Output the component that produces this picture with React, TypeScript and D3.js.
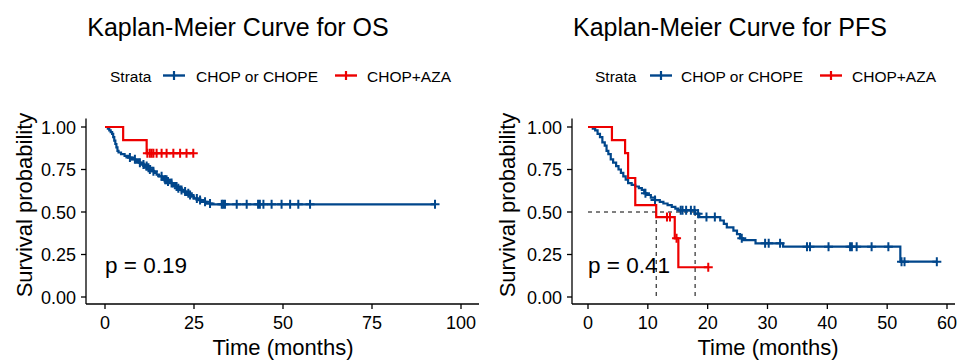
import React from "react";
import * as d3 from "d3";

// ---------- data ----------
const strata = ["CHOP or CHOPE", "CHOP+AZA"];
const strataColors = ["#00468B", "#ED0000"];

// OS — CHOP or CHOPE (step after)
const osBlueTimes = [0, 0.8, 1.2, 1.6, 2.0, 2.3, 2.6, 2.9, 3.2, 3.5, 3.8, 4.5, 5.5, 6.5, 7.5, 8.5, 9.5, 10.3, 11.0, 11.8, 12.5, 13.2, 13.8, 14.5, 15.2, 16.0, 16.8, 17.5, 18.3, 19.0, 19.8, 20.5, 21.2, 22.0, 22.8, 23.5, 24.3, 25.0, 26.0, 27.0, 28.5, 30.0];
const osBlueSurv = [1.0, 0.99, 0.98, 0.97, 0.96, 0.94, 0.92, 0.9, 0.88, 0.86, 0.85, 0.84, 0.83, 0.82, 0.81, 0.8, 0.79, 0.78, 0.77, 0.76, 0.75, 0.74, 0.73, 0.72, 0.71, 0.7, 0.69, 0.68, 0.67, 0.66, 0.65, 0.64, 0.63, 0.62, 0.61, 0.6, 0.59, 0.58, 0.57, 0.56, 0.55, 0.545];
const osBlueCensor = [7.0, 8.4, 9.8, 10.8, 11.7, 12.2, 12.6, 13.6, 15.9, 16.9, 17.3, 17.7, 18.7, 20.1, 20.6, 21.5, 22.5, 23.4, 23.9, 25.8, 26.7, 28.1, 29.5, 32.8, 33.2, 33.7, 37.0, 39.8, 43.0, 43.5, 44.5, 46.8, 49.6, 52.0, 54.3, 57.6, 92.7];

// OS — CHOP+AZA
const osRedTimes = [0, 5.1, 11.7];
const osRedSurv = [1.0, 0.923, 0.846];
const osRedCensor = [11.9, 12.6, 13.1, 13.6, 14.5, 15.9, 17.3, 19.2, 21.1, 22.9, 24.8];

// PFS — CHOP or CHOPE
const pfsBlueTimes = [0, 0.8, 1.2, 1.6, 2.0, 2.4, 2.8, 3.1, 3.4, 3.8, 4.2, 4.7, 5.1, 5.5, 5.9, 6.3, 6.7, 7.3, 7.9, 8.5, 9.0, 9.4, 9.8, 10.5, 11.2, 12.0, 12.6, 13.3, 14.0, 14.6, 15.1, 17.9, 18.6, 22.1, 22.7, 23.2, 24.3, 24.9, 25.4, 25.9, 28.0, 32.6, 52.2];
const pfsBlueSurv = [1.0, 0.99, 0.98, 0.96, 0.94, 0.91, 0.89, 0.86, 0.84, 0.81, 0.79, 0.77, 0.75, 0.73, 0.71, 0.69, 0.67, 0.66, 0.65, 0.64, 0.63, 0.61, 0.6, 0.585, 0.57, 0.56, 0.55, 0.54, 0.53, 0.52, 0.51, 0.49, 0.47, 0.45, 0.43, 0.41, 0.39, 0.37, 0.345, 0.335, 0.316, 0.296, 0.208];
const pfsBlueCensor = [9.6, 11.2, 15.5, 15.8, 16.4, 17.2, 17.8, 18.4, 19.8, 21.2, 25.7, 29.6, 30.2, 32.1, 36.6, 37.1, 40.2, 43.8, 44.1, 44.9, 47.4, 50.2, 52.4, 52.9, 58.3];

// PFS — CHOP+AZA
const pfsRedTimes = [0, 4.0, 6.2, 6.7, 7.9, 11.4, 14.5, 15.1];
const pfsRedSurv = [1.0, 0.923, 0.846, 0.7, 0.54, 0.47, 0.345, 0.175];
const pfsRedCensor = [13.2, 13.7, 14.8, 20.1];

const yTicks = [0, 0.25, 0.5, 0.75, 1];
const osXTicks = [0, 25, 50, 75, 100];
const pfsXTicks = [0, 10, 20, 30, 40, 50, 60];
const titles = ["Kaplan-Meier Curve for OS", "Kaplan-Meier Curve for PFS"];
const pValues = ["p = 0.19", "p = 0.41"];

// ---------- helpers ----------
const FONT = "'Liberation Sans', Arial, Helvetica, sans-serif";
type Series = { times: number[]; surv: number[]; censor: number[] };

function survAt(s: Series, t: number) {
  let v = s.surv[0];
  for (let i = 0; i < s.times.length; i++) if (s.times[i] <= t) v = s.surv[i];
  return v;
}
function endTime(s: Series) {
  return Math.max(s.times[s.times.length - 1], ...s.censor);
}
function median(s: Series) {
  for (let i = 0; i < s.times.length; i++) if (s.surv[i] <= 0.5) return s.times[i];
  return null;
}

type PanelProps = {
  title: string;
  pval: string;
  series: Series[];
  xDomain: [number, number];
  xRange: [number, number];
  xTicks: number[];
  axisLeft: number;
  axisRight: number;
  titleX: number;
  legendX: number[]; // strata label, key1, text1, key2, text2
  yLabelX: number;
  xLabelX: number;
  showMedian: boolean;
};

function Panel(p: PanelProps) {
  const x = d3.scaleLinear().domain(p.xDomain).range(p.xRange);
  const y = d3.scaleLinear().domain([0, 1]).range([297, 127]);
  const axisTop = y(1.05);
  const axisBottom = 304;
  const line = d3
    .line<[number, number]>()
    .x((d) => x(d[0]))
    .y((d) => y(d[1]))
    .curve(d3.curveStepAfter);

  const medians = p.series.map(median).filter((m) => m !== null) as number[];

  return (
    <g>
      <text x={p.titleX} y={36} textAnchor="middle" fontSize={25} fontFamily={FONT} fill="#000">
        {p.title}
      </text>
      {/* legend */}
      <g fontFamily={FONT} fontSize={15.5} fill="#000">
        <text x={p.legendX[0]} y={82}>Strata</text>
        {strata.map((s, i) => {
          const kx = p.legendX[1 + i * 2];
          const tx = p.legendX[2 + i * 2];
          return (
            <g key={s}>
              <line x1={kx - 11} x2={kx + 11} y1={75.5} y2={75.5} stroke={strataColors[i]} strokeWidth={2.4} />
              <line x1={kx} x2={kx} y1={71} y2={80} stroke={strataColors[i]} strokeWidth={2.2} />
              <text x={tx} y={82}>{s}</text>
            </g>
          );
        })}
      </g>
      {/* medians */}
      {p.showMedian && medians.length > 0 && (
        <g stroke="#000" strokeWidth={1} strokeDasharray="4,4" fill="none">
          <line x1={x(0)} x2={x(Math.max(...medians))} y1={y(0.5)} y2={y(0.5)} />
          {medians.map((m, i) => (
            <line key={i} x1={x(m)} x2={x(m)} y1={y(0.5)} y2={y(0)} />
          ))}
        </g>
      )}
      {/* curves */}
      {p.series.map((s, i) => {
        const pts: [number, number][] = s.times.map((t, j) => [t, s.surv[j]] as [number, number]);
        pts.push([endTime(s), s.surv[s.surv.length - 1]]);
        return (
          <g key={i}>
            <path d={line(pts) || ""} fill="none" stroke={strataColors[i]} strokeWidth={2.2} />
            {s.censor.map((c, j) => {
              const cx = x(c);
              const cy = y(survAt(s, c));
              return (
                <path
                  key={j}
                  d={`M${cx - 4.5},${cy}H${cx + 4.5}M${cx},${cy - 4.5}V${cy + 4.5}`}
                  stroke={strataColors[i]}
                  strokeWidth={2}
                  fill="none"
                />
              );
            })}
          </g>
        );
      })}
      {/* p value */}
      <text x={x(0)} y={273} fontSize={22.5} fontFamily={FONT} fill="#000">
        {p.pval}
      </text>
      {/* axes */}
      <g stroke="#000" strokeWidth={1.3} fill="none">
        <line x1={p.axisLeft} x2={p.axisLeft} y1={axisTop} y2={axisBottom} />
        <line x1={p.axisLeft} x2={p.axisRight} y1={axisBottom} y2={axisBottom} />
        {yTicks.map((t) => (
          <line key={"y" + t} x1={p.axisLeft - 5} x2={p.axisLeft} y1={y(t)} y2={y(t)} />
        ))}
        {p.xTicks.map((t) => (
          <line key={"x" + t} x1={x(t)} x2={x(t)} y1={axisBottom} y2={axisBottom + 5} />
        ))}
      </g>
      <g fontFamily={FONT} fontSize={18} fill="#000">
        {yTicks.map((t) => (
          <text key={"yl" + t} x={p.axisLeft - 10} y={y(t) + 6.5} textAnchor="end">
            {d3.format(".2f")(t)}
          </text>
        ))}
        {p.xTicks.map((t) => (
          <text key={"xl" + t} x={x(t)} y={329} textAnchor="middle">
            {t}
          </text>
        ))}
      </g>
      <text x={p.xLabelX} y={355} textAnchor="middle" fontSize={22} fontFamily={FONT} fill="#000">
        Time (months)
      </text>
      <text
        transform={`translate(${p.yLabelX},205) rotate(-90)`}
        textAnchor="middle"
        fontSize={22}
        fontFamily={FONT}
        fill="#000"
      >
        Survival probability
      </text>
    </g>
  );
}

export default function App() {
  const osSeries: Series[] = [
    { times: osBlueTimes, surv: osBlueSurv, censor: osBlueCensor },
    { times: osRedTimes, surv: osRedSurv, censor: osRedCensor },
  ];
  const pfsSeries: Series[] = [
    { times: pfsBlueTimes, surv: pfsBlueSurv, censor: pfsBlueCensor },
    { times: pfsRedTimes, surv: pfsRedSurv, censor: pfsRedCensor },
  ];
  return (
    <svg
      width={965}
      height={362}
      style={{ position: "absolute", left: 0, top: 0, background: "#fff" }}
    >
      <rect width={965} height={362} fill="#fff" />
      <Panel
        title={titles[0]}
        pval={pValues[0]}
        series={osSeries}
        xDomain={[0, 100]}
        xRange={[105, 461]}
        xTicks={osXTicks}
        axisLeft={86}
        axisRight={479}
        titleX={238}
        legendX={[110, 174, 196, 346, 367]}
        yLabelX={32}
        xLabelX={283}
        showMedian={false}
      />
      <Panel
        title={titles[1]}
        pval={pValues[1]}
        series={pfsSeries}
        xDomain={[0, 60]}
        xRange={[588, 947]}
        xTicks={pfsXTicks}
        axisLeft={572}
        axisRight={955}
        titleX={730}
        legendX={[595, 661, 681, 831, 852]}
        yLabelX={515}
        xLabelX={768}
        showMedian={true}
      />
    </svg>
  );
}
